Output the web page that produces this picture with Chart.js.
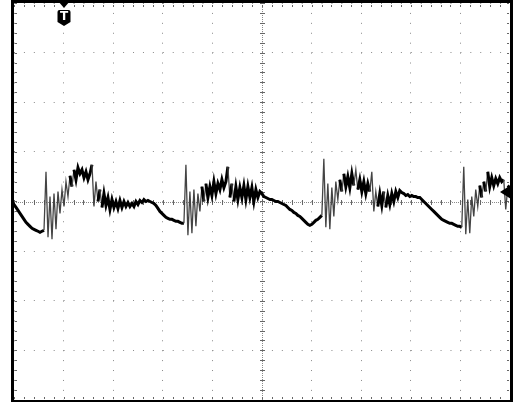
<!DOCTYPE html>
<html>
<head>
<meta charset="utf-8">
<script src="https://cdn.jsdelivr.net/npm/chart.js@4"></script>
<style>
  html, body { margin: 0; padding: 0; background: #fff; }
  canvas { display: block; }
</style>
</head>
<body>
<canvas id="scope" width="514" height="402"></canvas>
<script>
// screen is 10 x 8 divisions, values below are in divisions
const xDivs = [0, 10];
const yDivs = [-4, 4];
const triggerTime = 1;      // T marker position (div)
const triggerLevel = 0.2;   // right-hand level arrow (div)
const sampleStep = 0.0403;  // div between samples
const sampleStart = -0.04;

// trace, every ~2 px
const trace = [
  0, -0.06, -0.12, -0.18, -0.24, -0.30, -0.36, -0.42, -0.46, -0.50,
  -0.54, -0.56, -0.58, -0.60, -0.62, -0.60, -0.58, 0.60, -0.72, 0.10,
  -0.76, 0.16, -0.56, 0.20, -0.24, 0.24, -0.10, 0.40, 0.10, 0.52,
  0.30, 0.64, 0.44, 0.68, 0.56, 0.64, 0.48, 0.60, 0.44, 0.56,
  0.74, -0.10, 0.40, 0, 0.24, -0.12, 0.16, -0.08, 0.08, -0.16,
  0.04, -0.12, 0, -0.14, 0.02, -0.12, 0, -0.10, -0.02, -0.10,
  -0.04, -0.10, 0, -0.06, 0.02, -0.02, 0.04, 0, 0.02, 0,
  -0.02, -0.04, -0.08, -0.14, -0.20, -0.24, -0.28, -0.32, -0.34, -0.36,
  -0.36, -0.38, -0.40, -0.40, -0.42, -0.44, -0.44, 0.74, -0.68, 0.20,
  -0.64, 0.24, -0.50, 0.16, -0.20, 0.30, 0, 0.36, 0.08, 0.30,
  0.12, 0.40, 0.16, 0.36, 0.24, 0.44, 0.28, 0.40, 0.70, 0.08,
  0.36, 0, 0.30, 0.04, 0.28, 0.08, 0.32, 0.04, 0.30, 0.08,
  0.28, 0, 0.24, 0.08, 0.20, 0.16, 0.10, 0.08, 0.06, 0.04,
  0.04, 0.02, 0, 0, -0.02, -0.04, -0.06, -0.08, -0.12, -0.16,
  -0.18, -0.22, -0.24, -0.28, -0.30, -0.34, -0.38, -0.42, -0.46, -0.48,
  -0.46, -0.42, -0.38, -0.36, -0.32, -0.28, 0.86, -0.52, 0.36, -0.56,
  0.28, -0.30, 0.40, 0.04, 0.44, 0.20, 0.56, 0.30, 0.50, 0.28,
  0.56, 0.32, 0.64, 0.24, 0.44, 0.20, 0.40, 0.16, 0.36, 0.20,
  0.60, -0.20, 0.20, -0.10, 0.16, -0.08, 0.20, -0.12, 0.12, -0.06,
  0.16, 0, 0.20, 0.08, 0.22, 0.18, 0.16, 0.12, 0.14, 0.10,
  0.12, 0.10, 0.10, 0.08, 0.08, 0.04, 0, -0.04, -0.08, -0.12,
  -0.16, -0.20, -0.24, -0.28, -0.32, -0.36, -0.38, -0.40, -0.42, -0.44,
  -0.44, -0.46, -0.48, -0.50, -0.50, -0.52, 0.70, -0.66, 0.04, -0.64,
  0.10, -0.30, 0.24, -0.10, 0.32, 0.08, 0.40, 0.20, 0.60, 0.30,
  0.48, 0.32, 0.46, 0.36, 0.48, 0.40, 0.44, -0.16, 0.28, 0.32
];

const points = trace.map((v, i) => ({ x: sampleStart + i * sampleStep, y: v }));

// steep jumps are drawn thin and grey like the scope's noise spikes
const steep = c => Math.abs(c.p1.parsed.y - c.p0.parsed.y) > 0.3;

// center cross, border ticks, frame and markers
const scopeDecor = {
  id: 'scopeDecor',
  beforeDatasetsDraw(chart) {
    const { ctx, chartArea: a, scales: { x, y } } = chart;
    const cx = Math.round(x.getPixelForValue(5));
    const cy = Math.round(y.getPixelForValue(0));
    ctx.save();
    ctx.fillStyle = '#8a8a8a';
    // dense dots on the center lines
    for (let px = a.left; px < a.right; px += 2) ctx.fillRect(Math.round(px), cy, 1, 1);
    for (let py = a.top; py < a.bottom; py += 2) ctx.fillRect(cx, Math.round(py), 1, 1);
    ctx.fillStyle = '#666';
    for (let v = 0; v <= 10.001; v += 0.2) {
      const px = Math.round(x.getPixelForValue(v));
      ctx.fillRect(px, cy - 2, 1, 5);
      ctx.fillRect(px, a.top + 2, 1, 2);
      ctx.fillRect(px, a.bottom - 3, 1, 2);
    }
    for (let v = -4; v <= 4.001; v += 0.2) {
      const py = Math.round(y.getPixelForValue(v));
      ctx.fillRect(cx - 2, py, 5, 1);
      ctx.fillRect(a.left + 1, py, 2, 1);
      ctx.fillRect(a.right - 3, py, 2, 1);
    }
    ctx.restore();
  },
  afterDatasetsDraw(chart) {
    const { ctx, chartArea: a, scales: { x, y } } = chart;
    ctx.save();
    ctx.strokeStyle = '#000';
    ctx.lineWidth = 3;
    ctx.strokeRect(a.left - 1.5, a.top - 1.5, a.right - a.left + 3, a.bottom - a.top + 3);

    // trigger time marker
    const tx = Math.round(x.getPixelForValue(triggerTime));
    ctx.fillStyle = '#000';
    ctx.beginPath();
    ctx.moveTo(tx - 6, 1);
    ctx.lineTo(tx + 6, 1);
    ctx.lineTo(tx, 8);
    ctx.closePath();
    ctx.fill();
    ctx.beginPath();
    ctx.moveTo(tx - 6.5, 12);
    ctx.quadraticCurveTo(tx - 6.5, 10, tx - 4.5, 10);
    ctx.lineTo(tx + 4.5, 10);
    ctx.quadraticCurveTo(tx + 6.5, 10, tx + 6.5, 12);
    ctx.lineTo(tx + 6.5, 22);
    ctx.lineTo(tx, 26);
    ctx.lineTo(tx - 6.5, 22);
    ctx.closePath();
    ctx.fill();
    ctx.fillStyle = '#fff';
    ctx.font = 'bold 12px "DejaVu Sans"';
    ctx.textAlign = 'center';
    ctx.textBaseline = 'middle';
    ctx.fillText('T', tx, 17);

    // trigger level arrow, pointing left from the right edge
    const ly = Math.round(y.getPixelForValue(triggerLevel));
    ctx.fillStyle = '#000';
    ctx.beginPath();
    ctx.moveTo(a.right + 1, ly - 7);
    ctx.lineTo(a.right + 1, ly + 7);
    ctx.lineTo(a.right - 10, ly);
    ctx.closePath();
    ctx.fill();
    ctx.restore();
  }
};

new Chart(document.getElementById('scope'), {
  type: 'line',
  data: {
    datasets: [{
      data: points,
      borderColor: '#000',
      borderWidth: 3,
      pointRadius: 0,
      tension: 0,
      segment: {
        borderColor: c => steep(c) ? '#444' : undefined,
        borderWidth: c => steep(c) ? 1.3 : undefined
      }
    }]
  },
  options: {
    responsive: false,
    animation: false,
    events: [],
    layout: { padding: { left: 14, right: 4, top: 3, bottom: 2 } },
    plugins: { legend: { display: false }, tooltip: { enabled: false } },
    scales: {
      x: {
        type: 'linear',
        min: xDivs[0],
        max: xDivs[1],
        ticks: { display: false, stepSize: 1 },
        grid: { color: '#8a8a8a', lineWidth: 1, drawTicks: false },
        border: { display: false, dash: [1, 8.92] }
      },
      y: {
        type: 'linear',
        min: yDivs[0],
        max: yDivs[1],
        ticks: { display: false, stepSize: 1 },
        grid: { color: '#8a8a8a', lineWidth: 1, drawTicks: false },
        border: { display: false, dash: [1, 8.92] }
      }
    }
  },
  plugins: [scopeDecor]
});
</script>
</body>
</html>
